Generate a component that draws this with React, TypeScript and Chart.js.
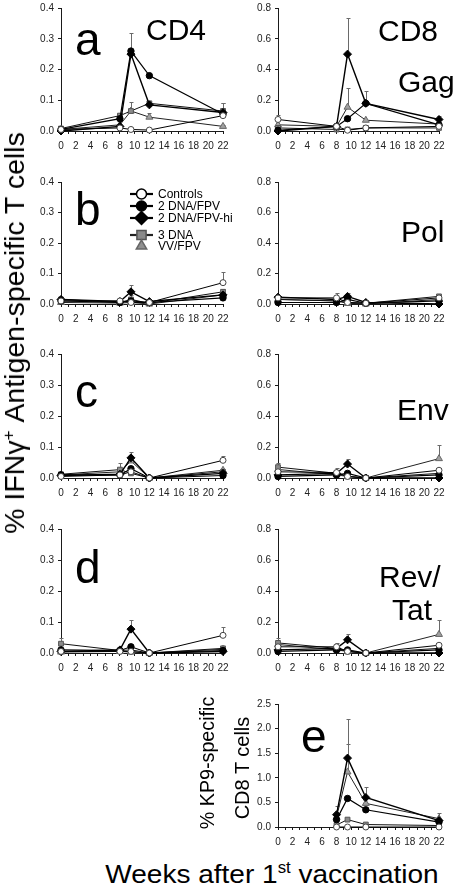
import React, { useEffect, useLayoutEffect, useRef, useState } from "react";
import { Chart, registerables } from "chart.js";
import { drawPoint } from "chart.js/helpers";

Chart.register(...registerables);

// ---------------- data ----------------
const seriesNames = ["Controls", "2 DNA/FPV", "2 DNA/FPV-hi", "3 DNA", "VV/FPV"];
const weeks = [0, 8, 9.5, 12, 22];
const weeksKP9 = [8, 9.5, 12, 22];
const xTickLabels = [0, 2, 4, 6, 8, 10, 12, 14, 16, 18, 20, 22];

// rows follow seriesNames order
const gagCD4 = [
  [0.005, 0.01, 0.005, 0.003, 0.05],
  [0.005, 0.04, 0.26, 0.18, 0.055],
  [0.0, 0.015, 0.25, 0.085, 0.06],
  [0.008, 0.05, 0.065, 0.09, 0.065],
  [0.005, 0.02, 0.065, 0.045, 0.015],
];
const gagCD4Err = [
  [0, 0, 0, 0, 0.02],
  [0, 0.01, 0.06, 0, 0.02],
  [0, 0, 0, 0, 0.03],
  [0.005, 0.01, 0.03, 0, 0.025],
  [0, 0, 0, 0.015, 0.005],
];
const gagCD8 = [
  [0.075, 0.03, 0.005, 0.02, 0.03],
  [0.005, 0.03, 0.08, 0.18, 0.04],
  [0.0, 0.03, 0.5, 0.18, 0.075],
  [0.02, 0.01, 0.01, 0.02, 0.02],
  [0.04, 0.03, 0.155, 0.07, 0.045],
];
const gagCD8Err = [
  [0.03, 0, 0, 0, 0],
  [0, 0, 0, 0.08, 0],
  [0, 0, 0.235, 0, 0.025],
  [0, 0, 0, 0, 0.01],
  [0, 0, 0.125, 0, 0.01],
];
const polCD4 = [
  [0.01, 0.01, 0.005, 0.005, 0.07],
  [0.01, 0.005, 0.01, 0.005, 0.02],
  [0.015, 0.008, 0.04, 0.008, 0.03],
  [0.015, 0.005, 0.015, 0.002, 0.04],
  [0.005, 0.003, 0.005, 0.0, 0.03],
];
const polCD4Err = [
  [0, 0, 0, 0, 0.035],
  [0, 0, 0, 0, 0],
  [0, 0, 0.023, 0, 0],
  [0.005, 0.005, 0.015, 0, 0.01],
  [0, 0, 0, 0, 0],
];
const polCD8 = [
  [0.04, 0.04, 0.01, 0.005, 0.04],
  [0.01, 0.01, 0.03, 0.005, 0.02],
  [0.045, 0.03, 0.05, 0.01, 0.0],
  [0.03, 0.02, 0.01, 0.005, 0.05],
  [0.03, 0.02, 0.005, 0.0, 0.03],
];
const polCD8Err = [
  [0, 0.035, 0, 0, 0],
  [0, 0, 0, 0, 0],
  [0, 0, 0.025, 0, 0],
  [0, 0.02, 0, 0, 0.01],
  [0.03, 0, 0, 0, 0],
];
const envCD4 = [
  [0.005, 0.01, 0.02, 0.0, 0.057],
  [0.01, 0.01, 0.03, 0.0, 0.008],
  [0.008, 0.012, 0.065, 0.0, 0.015],
  [0.012, 0.027, 0.015, 0.0, 0.02],
  [0.01, 0.02, 0.055, 0.0, 0.025],
];
const envCD4Err = [
  [0, 0, 0, 0, 0.015],
  [0, 0, 0, 0, 0],
  [0, 0, 0.018, 0, 0],
  [0, 0.023, 0, 0, 0],
  [0, 0, 0, 0, 0],
];
const envCD8 = [
  [0.04, 0.035, 0.01, 0.0, 0.05],
  [0.01, 0.02, 0.03, 0.0, 0.02],
  [0.02, 0.03, 0.09, 0.0, 0.0],
  [0.07, 0.03, 0.01, 0.0, 0.03],
  [0.055, 0.02, 0.01, 0.0, 0.125],
];
const envCD8Err = [
  [0, 0.03, 0, 0, 0.015],
  [0, 0, 0, 0, 0],
  [0, 0, 0.035, 0, 0],
  [0.03, 0, 0, 0, 0],
  [0, 0, 0, 0, 0.09],
];
const revCD4 = [
  [0.005, 0.005, 0.005, 0.0, 0.057],
  [0.01, 0.008, 0.02, 0.0, 0.008],
  [0.005, 0.01, 0.077, 0.0, 0.005],
  [0.03, 0.008, 0.01, 0.0, 0.015],
  [0.003, 0.005, 0.003, 0.0, 0.012],
];
const revCD4Err = [
  [0, 0, 0, 0, 0.026],
  [0, 0, 0, 0, 0],
  [0, 0, 0.031, 0, 0],
  [0.02, 0, 0, 0, 0],
  [0, 0, 0, 0, 0],
];
const revCD8 = [
  [0.04, 0.04, 0.01, 0.0, 0.05],
  [0.01, 0.02, 0.02, 0.0, 0.02],
  [0.02, 0.03, 0.085, 0.0, 0.0],
  [0.065, 0.03, 0.01, 0.0, 0.03],
  [0.055, 0.02, 0.01, 0.0, 0.12],
];
const revCD8Err = [
  [0, 0.025, 0, 0, 0],
  [0, 0, 0, 0, 0],
  [0, 0, 0.035, 0, 0],
  [0.035, 0, 0, 0, 0],
  [0, 0, 0, 0, 0.09],
];
const kp9CD8 = [
  [0.0, 0.0, 0.0, 0.0],
  [0.15, 0.58, 0.35, 0.1],
  [0.25, 1.4, 0.6, 0.13],
  [0.04, 0.15, 0.05, 0.03],
  [0.2, 1.12, 0.48, 0.17],
];
const kp9CD8Err = [
  [0, 0, 0, 0],
  [0, 0, 0, 0],
  [0.17, 0.8, 0.22, 0],
  [0, 0, 0, 0],
  [0, 0.56, 0, 0.11],
];

// ---------------- styles ----------------
const FONT = "'Liberation Sans', Arial, Helvetica, sans-serif";
const seriesStyles = [
  { pointStyle: "circle", radius: 3, fill: "#ffffff", edge: "#444444", line: "#000000", lw: 1 },
  { pointStyle: "circle", radius: 3.2, fill: "#000000", edge: "#000000", line: "#000000", lw: 1.2 },
  { pointStyle: "rectRot", radius: 4, fill: "#000000", edge: "#000000", line: "#000000", lw: 1.4 },
  { pointStyle: "rect", radius: 3.4, fill: "#8a8a8a", edge: "#555555", line: "#111111", lw: 1 },
  { pointStyle: "triangle", radius: 4, fill: "#a0a0a0", edge: "#666666", line: "#222222", lw: 1 },
];
const legendStyles = [
  { pointStyle: "circle", radius: 5, fill: "#ffffff", edge: "#000000", line: "#000000", showLine: true },
  { pointStyle: "circle", radius: 5, fill: "#000000", edge: "#000000", line: "#000000", showLine: true },
  { pointStyle: "rectRot", radius: 6.5, fill: "#000000", edge: "#000000", line: "#000000", showLine: true },
  { pointStyle: "rect", radius: 6.5, fill: "#8a8a8a", edge: "#555555", line: "#222222", showLine: true },
  { pointStyle: "triangle", radius: 6, fill: "#8f8f8f", edge: "#666666", line: "#000000", showLine: false },
];
const legendRows = [12, 24, 36, 53, 64];

const YW = 40;
const PT = 8;
const PR = 12;
const XH = 24;

const errorBarPlugin = {
  id: "errbars",
  beforeDatasetsDraw(chart: any) {
    const { ctx } = chart;
    const ys = chart.scales.y;
    ctx.save();
    ctx.strokeStyle = "#6a6a6a";
    ctx.lineWidth = 1;
    chart.data.datasets.forEach((ds: any, i: number) => {
      const meta = chart.getDatasetMeta(i);
      const errs: number[] = ds.errUp || [];
      meta.data.forEach((pt: any, j: number) => {
        const e = errs[j];
        if (!e) return;
        const raw = ds.data[j].y;
        const x = Math.round(pt.x) + 0.5;
        const y0 = pt.y;
        const y1 = Math.round(ys.getPixelForValue(raw + e)) + 0.5;
        ctx.beginPath();
        ctx.moveTo(x, y0);
        ctx.lineTo(x, y1);
        ctx.moveTo(x - 2, y1);
        ctx.lineTo(x + 2, y1);
        ctx.stroke();
      });
    });
    ctx.restore();
  },
};

const legendPlugin = {
  id: "customLegend",
  afterDatasetsDraw(chart: any, _args: any, opts: any) {
    if (!opts || !opts.show) return;
    const { ctx, chartArea } = chart;
    const lx0 = chartArea.left + 69;
    const lx1 = chartArea.left + 92;
    const mx = chartArea.left + 80.5;
    const tx = chartArea.left + 97;
    ctx.save();
    seriesNames.forEach((name, i) => {
      const st = legendStyles[i];
      const y = chartArea.top + legendRows[i];
      if (st.showLine) {
        ctx.strokeStyle = st.line;
        ctx.lineWidth = 2.2;
        ctx.beginPath();
        ctx.moveTo(lx0, y);
        ctx.lineTo(lx1, y);
        ctx.stroke();
      }
      ctx.fillStyle = st.fill;
      ctx.strokeStyle = st.edge;
      ctx.lineWidth = 1.5;
      drawPoint(ctx, { pointStyle: st.pointStyle, radius: st.radius, borderWidth: 1.5, rotation: 0 } as any, mx, y);
      ctx.fillStyle = "#000";
      ctx.font = `12px ${FONT}`;
      ctx.textBaseline = "middle";
      ctx.textAlign = "left";
      ctx.fillText(name, tx, y + 0.5);
    });
    ctx.restore();
  },
};

Chart.register(errorBarPlugin as any, legendPlugin as any);

type PanelProps = {
  x0: number;
  x1: number;
  y0: number;
  y1: number;
  yMax: number;
  yStep: number;
  xs: number[];
  values: number[][];
  errors: number[][];
  legend?: boolean;
};

function Panel({ x0, x1, y0, y1, yMax, yStep, xs, values, errors, legend }: PanelProps) {
  const ref = useRef<HTMLCanvasElement>(null);
  const w = YW + (x1 - x0) + PR;
  const h = PT + (y1 - y0) + XH;
  useEffect(() => {
    Chart.defaults.font.family = FONT;
    const datasets = values.map((vals, i) => {
      const st = seriesStyles[i];
      return {
        label: seriesNames[i],
        data: vals.map((v, j) => ({ x: xs[j], y: v })),
        errUp: errors[i],
        borderColor: st.line,
        borderWidth: st.lw,
        backgroundColor: st.fill,
        pointBackgroundColor: st.fill,
        pointBorderColor: st.edge,
        pointBorderWidth: 1,
        pointStyle: st.pointStyle,
        pointRadius: st.radius,
        tension: 0,
        clip: false,
        fill: false,
      };
    });
    const chart = new Chart(ref.current as HTMLCanvasElement, {
      type: "line",
      data: { datasets: datasets as any },
      options: {
        animation: false,
        responsive: false,
        maintainAspectRatio: false,
        events: [],
        layout: { padding: { left: 0, top: PT, right: PR, bottom: 0 } },
        plugins: {
          legend: { display: false },
          tooltip: { enabled: false },
          customLegend: { show: !!legend },
        } as any,
        scales: {
          x: {
            type: "linear",
            min: 0,
            max: 22,
            afterFit: (s: any) => {
              s.height = XH;
            },
            border: { display: true, color: "#1a1a1a", width: 1 },
            grid: { display: true, drawOnChartArea: false, drawTicks: true, tickLength: 3, color: "#1a1a1a" },
            ticks: {
              stepSize: 1,
              autoSkip: false,
              maxRotation: 0,
              padding: 6,
              color: "#222",
              font: { size: 10, family: FONT },
              callback: (v: any) => (xTickLabels.includes(Number(v)) ? String(v) : ""),
            },
          },
          y: {
            type: "linear",
            min: 0,
            max: yMax,
            afterFit: (s: any) => {
              s.width = YW;
            },
            border: { display: true, color: "#1a1a1a", width: 1 },
            grid: { display: true, drawOnChartArea: false, drawTicks: true, tickLength: 3, color: "#1a1a1a" },
            ticks: {
              stepSize: yStep,
              padding: 4,
              color: "#222",
              font: { size: 10, family: FONT },
              callback: (v: any) => Number(v).toFixed(1),
            },
          },
        },
      } as any,
    });
    return () => chart.destroy();
  }, []);
  return (
    <canvas
      ref={ref}
      width={w}
      height={h}
      style={{ position: "absolute", left: x0 - YW, top: y0 - PT, width: w, height: h }}
    />
  );
}

const textBase: React.CSSProperties = {
  position: "absolute",
  fontFamily: FONT,
  lineHeight: 1,
  whiteSpace: "nowrap",
  color: "#000",
};

function Label({ text, left, baseline, size }: { text: string; left: number; baseline: number; size: number }) {
  return <div style={{ ...textBase, left, top: baseline - 0.8465 * size, fontSize: size }}>{text}</div>;
}

// text fitted to a target length; rotated when vertical
function FitText({
  cx,
  cy,
  length,
  size,
  vertical,
  children,
}: {
  cx: number;
  cy: number;
  length: number;
  size: number;
  vertical?: boolean;
  children: React.ReactNode;
}) {
  const ref = useRef<HTMLDivElement>(null);
  const [scale, setScale] = useState(1);
  useLayoutEffect(() => {
    const el = ref.current;
    if (el && el.offsetWidth > 0) setScale(length / el.offsetWidth);
  }, []);
  const rot = vertical ? " rotate(-90deg)" : "";
  return (
    <div
      ref={ref}
      style={{
        ...textBase,
        left: 0,
        top: cy,
        marginLeft: cx,
        fontSize: size,
        transformOrigin: "0 0",
        transform: `translate(0, 0)`,
        visibility: "visible",
      }}
    >
      <div
        style={{
          position: "absolute",
          left: 0,
          top: 0,
          whiteSpace: "nowrap",
          transform: `translate(-50%, -50%)${rot} scaleX(${scale})`,
        }}
      >
        {children}
      </div>
      <span style={{ visibility: "hidden" }}>{children}</span>
    </div>
  );
}

const supStyle: React.CSSProperties = { fontSize: "0.6em", verticalAlign: "super", lineHeight: 0 };

export default function App() {
  useEffect(() => {
    document.body.style.margin = "0";
    document.body.style.overflow = "hidden";
  }, []);
  const L = [61, 223];
  const R = [278, 439];
  const rows = [
    [6, 131],
    [180, 304],
    [352, 478],
    [527, 653],
  ];
  return (
    <div style={{ position: "relative", width: 456, height: 886, overflow: "hidden", background: "#fff" }}>
      <Panel x0={L[0]} x1={L[1]} y0={rows[0][0]} y1={rows[0][1]} yMax={0.4} yStep={0.1} xs={weeks} values={gagCD4} errors={gagCD4Err} />
      <Panel x0={R[0]} x1={R[1]} y0={rows[0][0]} y1={rows[0][1]} yMax={0.8} yStep={0.2} xs={weeks} values={gagCD8} errors={gagCD8Err} />
      <Panel x0={L[0]} x1={L[1]} y0={rows[1][0]} y1={rows[1][1]} yMax={0.4} yStep={0.1} xs={weeks} values={polCD4} errors={polCD4Err} legend />
      <Panel x0={R[0]} x1={R[1]} y0={rows[1][0]} y1={rows[1][1]} yMax={0.8} yStep={0.2} xs={weeks} values={polCD8} errors={polCD8Err} />
      <Panel x0={L[0]} x1={L[1]} y0={rows[2][0]} y1={rows[2][1]} yMax={0.4} yStep={0.1} xs={weeks} values={envCD4} errors={envCD4Err} />
      <Panel x0={R[0]} x1={R[1]} y0={rows[2][0]} y1={rows[2][1]} yMax={0.8} yStep={0.2} xs={weeks} values={envCD8} errors={envCD8Err} />
      <Panel x0={L[0]} x1={L[1]} y0={rows[3][0]} y1={rows[3][1]} yMax={0.4} yStep={0.1} xs={weeks} values={revCD4} errors={revCD4Err} />
      <Panel x0={R[0]} x1={R[1]} y0={rows[3][0]} y1={rows[3][1]} yMax={0.8} yStep={0.2} xs={weeks} values={revCD8} errors={revCD8Err} />
      <Panel x0={R[0]} x1={R[1]} y0={702} y1={827} yMax={2.5} yStep={0.5} xs={weeksKP9} values={kp9CD8} errors={kp9CD8Err} />

      <Label text="a" left={75} baseline={55} size={46} />
      <Label text="b" left={75} baseline={225} size={46} />
      <Label text="c" left={75} baseline={407} size={46} />
      <Label text="d" left={75} baseline={583} size={46} />
      <Label text="e" left={301} baseline={752} size={46} />

      <Label text="CD4" left={146} baseline={40} size={30} />
      <Label text="CD8" left={378} baseline={41} size={30} />
      <Label text="Gag" left={398} baseline={92} size={30} />
      <Label text="Pol" left={401} baseline={242} size={30} />
      <Label text="Env" left={397} baseline={420} size={30} />
      <Label text="Rev/" left={379} baseline={587} size={30} />
      <Label text="Tat" left={392} baseline={620} size={30} />

      <FitText cx={15} cy={333} length={402} size={28} vertical>
        % IFN{"\u03B3"}
        <span style={supStyle}>+</span> Antigen-specific T cells
      </FitText>
      <FitText cx={207} cy={763} length={133} size={20} vertical>
        % KP9-specific
      </FitText>
      <FitText cx={242} cy={768} length={103} size={20} vertical>
        CD8 T cells
      </FitText>
      <FitText cx={271.5} cy={874} length={333} size={26}>
        Weeks after 1<span style={supStyle}>st</span> vaccination
      </FitText>
    </div>
  );
}
